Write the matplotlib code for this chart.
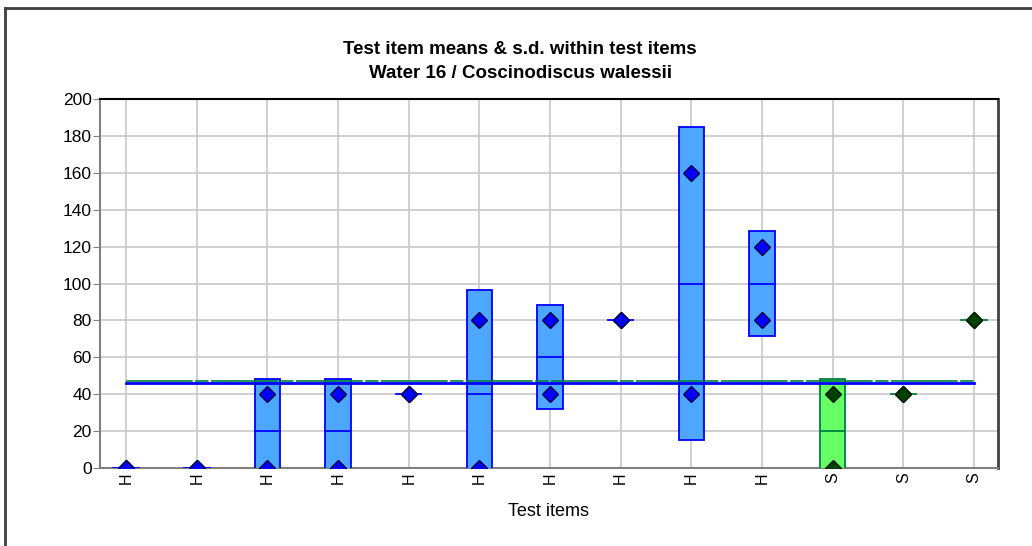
import numpy as np
import matplotlib
matplotlib.use("Agg")
import matplotlib.pyplot as plt
from matplotlib.patches import Rectangle

plt.rcParams['font.family'] = ['Liberation Sans', 'DejaVu Sans']

# Werte je Testobjekt (zwei Messungen pro Objekt)
item_types = ['H', 'H', 'H', 'H', 'H', 'H', 'H', 'H', 'H', 'H', 'S', 'S', 'S']
values_a = [0, 0, 0, 0, 40, 0, 40, 80, 40, 80, 0, 40, 80]
values_b = [0, 0, 40, 40, 40, 80, 80, 80, 160, 120, 40, 40, 80]

vals = np.array([values_a, values_b], dtype=float)
means = vals.mean(axis=0)
sds = vals.std(axis=0, ddof=1)
grand_mean = vals.mean()
x = np.arange(len(item_types))

fig = plt.figure(figsize=(10.32, 5.46), dpi=100)
ax = fig.add_axes([100 / 1032, 1 - 468 / 546, 898 / 1032, 369 / 546])

bw = 0.36
for i in x:
    if item_types[i] == 'H':
        fc, ec, mfc, mec = '#4da6ff', '#0000ff', '#0000ff', '#000040'
    else:
        fc, ec, mfc, mec = '#66ff66', '#008040', '#004000', '#001800'
    if sds[i] > 0:
        ax.add_patch(Rectangle((i - bw / 2, means[i] - sds[i]), bw, 2 * sds[i],
                               facecolor=fc, edgecolor=ec, lw=1.3, zorder=3))
    ax.plot([i - bw / 2, i + bw / 2], [means[i], means[i]], color=ec, lw=1.3, zorder=4)
    ax.plot([i, i], [vals[0, i], vals[1, i]], ls='none', marker='D', ms=8,
            mfc=mfc, mec=mec, mew=1, zorder=5)

# Mittelwertlinie
ax.plot([x[0], x[-1]], [grand_mean, grand_mean], color='#0000ff', lw=2, zorder=6)
ax.plot([x[0], x[-1]], [grand_mean + 1.0, grand_mean + 1.0], color='#008040', lw=1.2,
        dashes=(40, 1.5, 8, 1.5), zorder=6)

ax.set_xlim(-0.37, 12.34)
ax.set_ylim(0, 200)
ax.set_yticks(np.arange(0, 201, 20))
ax.set_xticks(x)
ax.set_xticklabels(item_types, rotation=90, fontsize=11.5)
ax.tick_params(axis='x', length=0, pad=3)
ax.tick_params(axis='y', length=5, color='#808080', labelsize=12.5, pad=1)
ax.grid(True, color='#c8c8c8', lw=1.2)
ax.set_axisbelow(True)
for s in ['left', 'bottom']:
    ax.spines[s].set_color('#808080')
    ax.spines[s].set_linewidth(1.5)
ax.spines['top'].set_color('black')
ax.spines['top'].set_linewidth(1.5)
ax.spines['right'].set_color('#404040')
ax.spines['right'].set_linewidth(2)

ax.set_xlabel('Test items', fontsize=13, labelpad=14)
fig.text(0.504, 1 - 49 / 546, 'Test item means & s.d. within test items',
         ha='center', va='center', fontsize=13.5, fontweight='bold')
fig.text(0.504, 1 - 73 / 546, 'Water 16 / Coscinodiscus walessii',
         ha='center', va='center', fontsize=13.5, fontweight='bold')

# Rahmen
fig.add_artist(plt.Line2D([5 / 1032, 5 / 1032], [0, 1 - 8 / 546], color='#404040', lw=2))
fig.add_artist(plt.Line2D([5 / 1032, 1], [1 - 8 / 546, 1 - 8 / 546], color='#404040', lw=2))

fig.savefig('out.png', dpi=100)
